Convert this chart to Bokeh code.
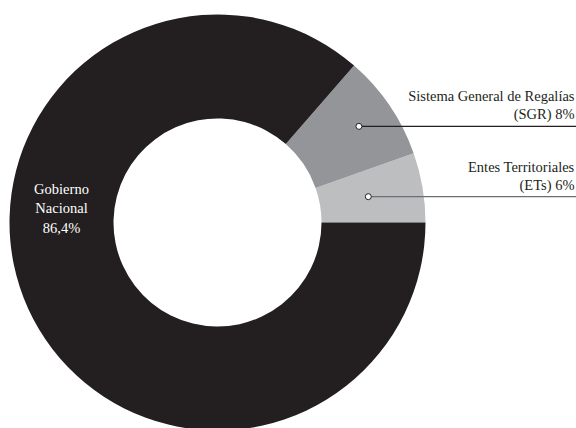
import numpy as np
from bokeh.plotting import figure
from bokeh.models import Range1d, ColumnDataSource
from bokeh.core.properties import value
from bokeh.embed import file_html
from bokeh.resources import INLINE

# ---- data ----
categories = ["Entes Territoriales", "Sistema General de Regalías", "Gobierno Nacional"]
shares = [5.4, 8.2, 86.4]  # percent
label_lines = [
    ["Entes Territoriales", "(ETs) 6%"],
    ["Sistema General de Regalías", "(SGR) 8%"],
    ["Gobierno", "Nacional", "86,4%"],
]
colors = ["#bcbec0", "#939598", "#231f20"]

# ---- layout ----
W, H = 576, 428
cx, cy = 217, H - 222
r_in, r_out = 104, 208
dot_r = [153, 171]
FONT = "Liberation Serif"

p = figure(width=W, height=H, output_backend="svg", toolbar_location=None,
           x_range=Range1d(0, W), y_range=Range1d(0, H), min_border=0)
p.axis.visible = False
p.grid.visible = False
p.outline_line_color = None
p.background_fill_color = "white"
p.border_fill_color = "white"

fr = np.array(shares) / np.sum(shares)
ends = np.cumsum(fr) * 2 * np.pi
starts = np.concatenate([[0], ends[:-1]])
src = ColumnDataSource(dict(start=starts, end=ends, color=colors, cat=categories))
p.annular_wedge(x=cx, y=cy, inner_radius=r_in, outer_radius=r_out,
                start_angle="start", end_angle="end", fill_color="color",
                line_color=None, source=src)

# leader lines for the two small slices
line_cols = ["#6d6e71", "#231f20"]
for i in range(2):
    mid = (starts[i] + ends[i]) / 2
    dx = cx + dot_r[i] * np.cos(mid)
    dy = cy + dot_r[i] * np.sin(mid)
    p.segment(x0=[dx], y0=[dy], x1=[W], y1=[dy], line_color=line_cols[i], line_width=1.2)
    p.scatter(x=[dx], y=[dy], size=6, marker="circle", fill_color="white",
              line_color="#231f20", line_width=1)
    lines = label_lines[i]
    ys = [dy + 30, dy + 12]
    p.text(x=[W - 2] * 2, y=ys, text=lines, text_align="right",
           text_baseline="middle", text_font=value(FONT), text_font_size="14.5px",
           text_color="#231f20")

# main slice label
gx, gy = 61, H - 188
p.text(x=[gx] * 3, y=[gy, gy - 19, gy - 39], text=label_lines[2], text_align="center",
       text_baseline="middle", text_font=value(FONT), text_font_size="14.5px",
       text_color="white")

open("out.html", "w").write(file_html(p, INLINE))
